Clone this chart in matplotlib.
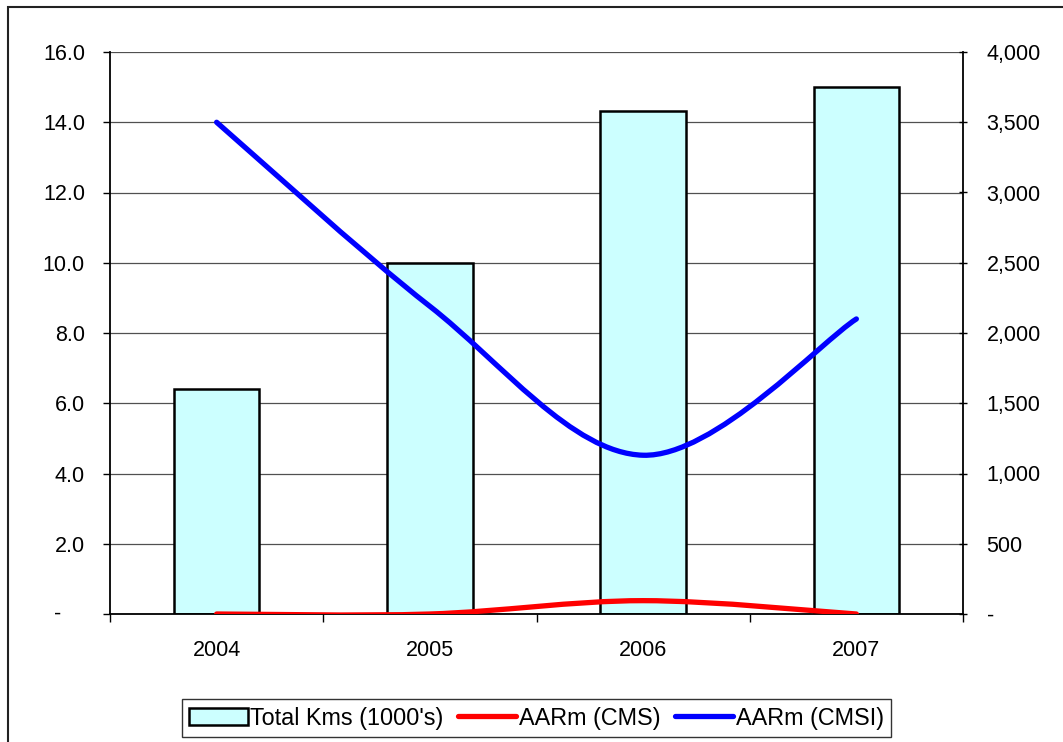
import numpy as np
import matplotlib
matplotlib.use("Agg")
import matplotlib.pyplot as plt
from matplotlib.path import Path
from matplotlib.patches import PathPatch, Rectangle, Patch
from matplotlib.lines import Line2D
from matplotlib.ticker import FixedLocator, FuncFormatter

plt.rcParams['font.family'] = ['Liberation Sans', 'DejaVu Sans']

years = ["2004", "2005", "2006", "2007"]
total_kms = [6.41, 10.0, 14.32, 15.0]           # left axis (1000's)
aarm_cms = [0, 0, 95, 0]                        # right axis
aarm_cmsi = [3500, 2190, 1130, 2100]            # right axis

left_ticks = [0, 2, 4, 6, 8, 10, 12, 14, 16]
right_ticks = [0, 500, 1000, 1500, 2000, 2500, 3000, 3500, 4000]

FS = 15.5
LFS = 16.8
W, H = 1063, 742
fig = plt.figure(figsize=(W / 100, H / 100), dpi=100)
fig.patch.set_facecolor('white')

# outer chart frame (cropped at right/bottom)
fig.patches.append(Rectangle((8 / W, -0.05), 1.2, 1 - 7 / H + 0.05, transform=fig.transFigure,
                             fill=False, edgecolor='#222222', lw=1.5))

ax = fig.add_axes([110 / W, 1 - 614 / H, (963 - 110) / W, (614 - 52) / H])
ax2 = ax.twinx()

x = np.arange(len(years))
ax.bar(x, total_kms, width=0.4, color='#CCFFFF', edgecolor='black', linewidth=1.8, zorder=2)
ax.set_xlim(-0.5, 3.5)
ax.set_ylim(0, 16)
ax2.set_ylim(0, 4000)

ax.set_axisbelow(True)
ax.yaxis.grid(True, color='#505050', lw=0.9)
ax.yaxis.set_major_locator(FixedLocator(left_ticks))
ax.yaxis.set_major_formatter(FuncFormatter(lambda v, p: "" if v == 0 else f"{v:.1f}"))
ax.annotate("-", xy=(0, 0), xycoords=ax.get_yaxis_transform(), xytext=(-56, 0),
            textcoords='offset pixels', ha='left', va='center', fontsize=FS)
ax2.yaxis.set_major_locator(FixedLocator(right_ticks))
ax2.yaxis.set_major_formatter(FuncFormatter(lambda v, p: "-" if v == 0 else f"{int(v):,}"))

ax.set_xticks(x)
ax.set_xticklabels(years)
ax.set_xticks(np.arange(-0.5, 4.0, 1.0), minor=True)
ax.tick_params(axis='x', which='major', length=0, pad=19, labelsize=FS)
ax.tick_params(axis='x', which='minor', length=6, width=1, direction='out', color='black')
ax.tick_params(axis='y', length=5, width=1, direction='out', pad=13, labelsize=FS)
ax2.tick_params(axis='y', length=6, width=1, direction='inout', pad=14, labelsize=FS)

for a in (ax, ax2):
    a.spines['top'].set_visible(False)
ax.spines['left'].set_linewidth(1.3)
ax.spines['bottom'].set_linewidth(1.3)
ax.spines['right'].set_visible(False)
ax2.spines['left'].set_visible(False)
ax2.spines['bottom'].set_visible(False)
ax2.spines['right'].set_linewidth(1.3)


def smooth_path(xs, ys):
    pts = np.column_stack([xs, ys]).astype(float)
    n = len(pts)
    verts = [pts[0]]
    codes = [Path.MOVETO]
    for i in range(n - 1):
        p0 = pts[i - 1] if i > 0 else pts[i]
        p1 = pts[i]
        p2 = pts[i + 1]
        p3 = pts[i + 2] if i + 2 < n else pts[i + 1]
        c1 = p1 + (p2 - p0) / 6.0
        c2 = p2 - (p3 - p1) / 6.0
        verts += [c1, c2, p2]
        codes += [Path.CURVE4] * 3
    return Path(verts, codes)


ax2.add_patch(PathPatch(smooth_path(x, aarm_cms), fill=False, edgecolor='#FF0000', lw=3.8,
                        capstyle='round', joinstyle='round', zorder=3))
ax2.add_patch(PathPatch(smooth_path(x, aarm_cmsi), fill=False, edgecolor='#0000FF', lw=3.8,
                        capstyle='round', joinstyle='round', zorder=3))

handles = [Patch(facecolor='#CCFFFF', edgecolor='black', lw=1.8),
           Line2D([], [], color='#FF0000', lw=3.8, solid_capstyle='round'),
           Line2D([], [], color='#0000FF', lw=3.8, solid_capstyle='round')]
labels = ["Total Kms (1000's)", "AARm (CMS)", "AARm (CMSI)"]
leg = fig.legend(handles, labels, loc='center', bbox_to_anchor=(536.5 / W, 1 - 718 / H), ncol=3,
                 fontsize=LFS, frameon=True, fancybox=False, shadow=False, borderpad=0.32,
                 handlelength=2.5, handletextpad=0.12, columnspacing=0.6, borderaxespad=0)
leg.get_frame().set_edgecolor('black')
leg.get_frame().set_linewidth(1.0)

fig.savefig("out.png", dpi=100)
